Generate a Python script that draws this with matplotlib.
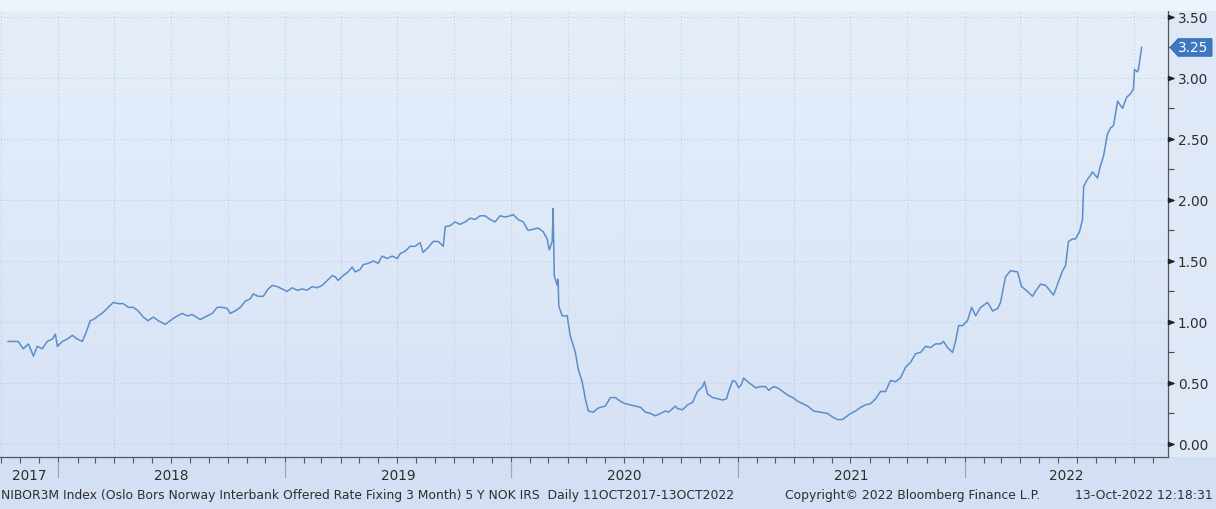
import matplotlib
matplotlib.use("Agg")
import matplotlib.pyplot as plt
import matplotlib.dates as mdates
from matplotlib.path import Path
from matplotlib.patches import Polygon, Rectangle
import numpy as np
import pandas as pd

# values (decimal year, rate in %)
years = [
    2017.779, 2017.801, 2017.823, 2017.845, 2017.868, 2017.890, 2017.907, 2017.929, 2017.951, 2017.974,
    2017.987, 2017.996, 2018.018, 2018.040, 2018.062, 2018.084, 2018.106, 2018.124, 2018.141, 2018.155,
    2018.177, 2018.199, 2018.221, 2018.243, 2018.265, 2018.287, 2018.309, 2018.331, 2018.353, 2018.375,
    2018.397, 2018.419, 2018.442, 2018.472, 2018.494, 2018.517, 2018.547, 2018.570, 2018.592, 2018.627,
    2018.658, 2018.680, 2018.702, 2018.724, 2018.746, 2018.759, 2018.781, 2018.804, 2018.826, 2018.848,
    2018.861, 2018.883, 2018.905, 2018.927, 2018.945, 2018.967, 2018.989, 2019.011, 2019.033, 2019.055,
    2019.077, 2019.099, 2019.121, 2019.143, 2019.166, 2019.188, 2019.210, 2019.223, 2019.236, 2019.258,
    2019.280, 2019.298, 2019.311, 2019.333, 2019.347, 2019.369, 2019.391, 2019.413, 2019.430, 2019.453,
    2019.475, 2019.497, 2019.510, 2019.532, 2019.554, 2019.576, 2019.598, 2019.611, 2019.634, 2019.656,
    2019.678, 2019.700, 2019.709, 2019.731, 2019.753, 2019.775, 2019.797, 2019.819, 2019.841, 2019.863,
    2019.885, 2019.907, 2019.929, 2019.951, 2019.974, 2019.996, 2020.009, 2020.031, 2020.053, 2020.075,
    2020.097, 2020.119, 2020.141, 2020.159, 2020.168, 2020.181, 2020.185, 2020.190, 2020.203, 2020.207,
    2020.210, 2020.225, 2020.247, 2020.260, 2020.283, 2020.296, 2020.313, 2020.327, 2020.340, 2020.362,
    2020.380, 2020.393, 2020.415, 2020.437, 2020.459, 2020.481, 2020.503, 2020.525, 2020.547, 2020.570,
    2020.592, 2020.614, 2020.636, 2020.658, 2020.680, 2020.693, 2020.711, 2020.724, 2020.733, 2020.755,
    2020.777, 2020.799, 2020.821, 2020.843, 2020.852, 2020.865, 2020.887, 2020.909, 2020.932, 2020.949,
    2020.958, 2020.976, 2020.989, 2021.002, 2021.015, 2021.024, 2021.042, 2021.064, 2021.077, 2021.099,
    2021.121, 2021.135, 2021.157, 2021.174, 2021.197, 2021.219, 2021.241, 2021.263, 2021.285, 2021.307,
    2021.333, 2021.364, 2021.395, 2021.417, 2021.439, 2021.461, 2021.475, 2021.497, 2021.519, 2021.541,
    2021.563, 2021.585, 2021.607, 2021.629, 2021.651, 2021.673, 2021.695, 2021.717, 2021.740, 2021.762,
    2021.784, 2021.806, 2021.828, 2021.850, 2021.872, 2021.894, 2021.907, 2021.925, 2021.947, 2021.960,
    2021.974, 2021.991, 2022.013, 2022.031, 2022.049, 2022.071, 2022.102, 2022.124, 2022.146, 2022.159,
    2022.181, 2022.203, 2022.234, 2022.252, 2022.278, 2022.300, 2022.313, 2022.336, 2022.358, 2022.380,
    2022.393, 2022.411, 2022.433, 2022.446, 2022.459, 2022.477, 2022.490, 2022.508, 2022.521, 2022.526,
    2022.543, 2022.552, 2022.565, 2022.587, 2022.600, 2022.614, 2022.631, 2022.645, 2022.658, 2022.676,
    2022.698, 2022.715, 2022.733, 2022.746, 2022.751, 2022.764, 2022.768, 2022.782,
]
rates = [
    0.84, 0.84, 0.84, 0.78, 0.82, 0.72, 0.80, 0.78, 0.84, 0.86,
    0.90, 0.80, 0.84, 0.86, 0.89, 0.86, 0.84, 0.92, 1.01, 1.02,
    1.05, 1.08, 1.12, 1.16, 1.15, 1.15, 1.12, 1.12, 1.09, 1.04,
    1.01, 1.04, 1.01, 0.98, 1.01, 1.04, 1.07, 1.05, 1.06, 1.02,
    1.05, 1.07, 1.12, 1.12, 1.11, 1.07, 1.09, 1.12, 1.17, 1.19,
    1.23, 1.21, 1.21, 1.27, 1.30, 1.29, 1.27, 1.25, 1.28, 1.26,
    1.27, 1.26, 1.29, 1.28, 1.30, 1.34, 1.38, 1.37, 1.34, 1.38,
    1.41, 1.45, 1.41, 1.43, 1.47, 1.48, 1.50, 1.48, 1.54, 1.52,
    1.54, 1.52, 1.56, 1.58, 1.62, 1.62, 1.65, 1.57, 1.61, 1.66,
    1.66, 1.62, 1.78, 1.79, 1.82, 1.80, 1.82, 1.85, 1.84, 1.87,
    1.87, 1.84, 1.82, 1.87, 1.86, 1.87, 1.88, 1.84, 1.82, 1.75,
    1.76, 1.77, 1.74, 1.68, 1.59, 1.66, 1.93, 1.38, 1.30, 1.35,
    1.13, 1.05, 1.05, 0.89, 0.75, 0.61, 0.51, 0.37, 0.27, 0.26,
    0.29, 0.30, 0.31, 0.38, 0.38, 0.35, 0.33, 0.32, 0.31, 0.30,
    0.26, 0.25, 0.23, 0.25, 0.27, 0.26, 0.29, 0.31, 0.29, 0.28,
    0.32, 0.34, 0.43, 0.47, 0.51, 0.41, 0.38, 0.37, 0.36, 0.37,
    0.43, 0.52, 0.51, 0.46, 0.49, 0.54, 0.51, 0.48, 0.46, 0.47,
    0.47, 0.44, 0.47, 0.46, 0.43, 0.40, 0.38, 0.35, 0.33, 0.31,
    0.27, 0.26, 0.25, 0.22, 0.20, 0.20, 0.22, 0.25, 0.27, 0.30,
    0.32, 0.33, 0.37, 0.43, 0.43, 0.52, 0.51, 0.54, 0.63, 0.67,
    0.74, 0.75, 0.80, 0.79, 0.82, 0.82, 0.84, 0.79, 0.75, 0.84,
    0.97, 0.97, 1.01, 1.12, 1.05, 1.12, 1.16, 1.09, 1.11, 1.16,
    1.37, 1.42, 1.41, 1.29, 1.25, 1.21, 1.25, 1.31, 1.30, 1.25,
    1.22, 1.31, 1.42, 1.46, 1.66, 1.68, 1.68, 1.74, 1.84, 2.11,
    2.17, 2.19, 2.23, 2.18, 2.28, 2.36, 2.54, 2.59, 2.61, 2.81,
    2.75, 2.84, 2.87, 2.91, 3.07, 3.05, 3.07, 3.25,
]

year_labels = [2017, 2018, 2019, 2020, 2021, 2022]
y_ticks = [0.0, 0.5, 1.0, 1.5, 2.0, 2.5, 3.0, 3.5]

footer_left = "NIBOR3M Index (Oslo Bors Norway Interbank Offered Rate Fixing 3 Month) 5 Y NOK IRS  Daily 11OCT2017-13OCT2022"
footer_mid = "Copyright\u00a9 2022 Bloomberg Finance L.P."
footer_right = "13-Oct-2022 12:18:31"


def dec_to_date(y):
    y0 = int(y)
    a = pd.Timestamp(y0, 1, 1)
    b = pd.Timestamp(y0 + 1, 1, 1)
    return a + (b - a) * (y - y0)


dates = [dec_to_date(y) for y in years]
x_min = pd.Timestamp("2017-09-29")
x_max = pd.Timestamp("2022-11-25")

line_col = "#5b8ec9"
txt_col = "#2e2e2e"
grid_col = "#c0cee3"

fig = plt.figure(figsize=(12.16, 5.10), dpi=100, facecolor="#dfe8f7")
# darker band under the plot for the date axis and footer, light strip on top
fig.patches.append(Rectangle((0, 0), 1, 0.102, transform=fig.transFigure,
                             facecolor="#d3dff2", edgecolor="none", zorder=-1))
fig.patches.append(Rectangle((0, 0.9765), 1, 0.0235, transform=fig.transFigure,
                             facecolor="#eef3fb", edgecolor="none", zorder=-1))
ax = fig.add_axes([0.0, 0.102, 1168 / 1216, 0.8745])
ax.set_facecolor("#dde7f7")

# soft vertical gradient behind the plot
grad = np.linspace(0, 1, 256).reshape(-1, 1)
cmap = matplotlib.colors.LinearSegmentedColormap.from_list("bg", ["#e6eefa", "#d6e2f5"])
ax.imshow(grad, aspect="auto", cmap=cmap, extent=[0, 1, 0, 1],
          transform=ax.transAxes, zorder=0, origin="upper")

ax.plot(dates, rates, color=line_col, lw=1.1, zorder=3)

ax.set_xlim(x_min, x_max)
ax.set_ylim(-0.107, 3.549)

# x axis: monthly ticks, quarterly grid
ax.xaxis.set_major_locator(mdates.MonthLocator(bymonth=[1, 4, 7, 10]))
ax.xaxis.set_minor_locator(mdates.MonthLocator())
ax.xaxis.set_major_formatter(plt.NullFormatter())
ax.tick_params(axis="x", which="both", direction="out", length=4, width=0.8, colors="#555555")
ax.grid(True, axis="x", which="major", ls=(0, (1, 2)), color=grid_col, lw=0.8)

# y axis on the right with triangle ticks
ax.yaxis.tick_right()
ax.set_yticks(y_ticks)
ax.set_yticks([0.25, 0.75, 1.25, 1.75, 2.25, 2.75, 3.25], minor=True)
ax.yaxis.set_major_formatter(plt.FuncFormatter(lambda v, p: f"{v:.2f}"))
ax.tick_params(axis="y", which="major", length=0, pad=7, labelsize=9.8, labelcolor=txt_col)
ax.tick_params(axis="y", which="minor", length=4, width=0.8, colors="#444444", direction="out")
ax.grid(True, axis="y", which="major", ls=(0, (1, 2)), color=grid_col, lw=0.8)
tri = Path([(0, -0.5), (1.4, 0), (0, 0.5), (0, -0.5)],
           [Path.MOVETO, Path.LINETO, Path.LINETO, Path.CLOSEPOLY])
for v in y_ticks:
    ax.plot([1.0], [v], marker=tri, ms=8, color="#222222", transform=ax.get_yaxis_transform(),
            clip_on=False, zorder=5)

for s in ["top", "left"]:
    ax.spines[s].set_visible(False)
ax.spines["right"].set_color("#555555")
ax.spines["bottom"].set_color("#555555")
ax.spines["right"].set_linewidth(0.9)
ax.spines["bottom"].set_linewidth(0.9)

# year labels centred in the visible part of each year, separators at year ends
xt = ax.get_xaxis_transform()
for yr in year_labels:
    a = max(pd.Timestamp(yr, 1, 1), x_min)
    b = min(pd.Timestamp(yr + 1, 1, 1), x_max)
    ax.text(a + (b - a) / 2, -0.024, str(yr), transform=xt, ha="center", va="top",
            fontsize=9.8, color=txt_col)
    if yr > year_labels[0]:
        ax.plot([pd.Timestamp(yr, 1, 1)] * 2, [-0.011, -0.046], transform=xt,
                color="#9aaac0", lw=0.9, clip_on=False)

# last value tag
last = rates[-1]
px = 1.0 / 1168
h = 0.072
tag = Polygon([(1 + 2 * px, last), (1 + 10 * px, last + h), (1 + 44 * px, last + h),
               (1 + 44 * px, last - h), (1 + 10 * px, last - h)],
              closed=True, transform=ax.get_yaxis_transform(), clip_on=False,
              facecolor="#3c78c3", edgecolor="#2f66ad", lw=0.6, zorder=6)
ax.add_patch(tag)
ax.text(1.0 + 25 * px, last, f"{last:.2f}", transform=ax.get_yaxis_transform(),
        ha="center", va="center", color="white", fontsize=9.8, zorder=7)

# footer
fig.text(0.001, 0.015, footer_left, fontsize=8.9, color=txt_col, ha="left", va="bottom")
fig.text(785 / 1216, 0.015, footer_mid, fontsize=8.9, color=txt_col, ha="left", va="bottom")
fig.text(1213 / 1216, 0.015, footer_right, fontsize=8.9, color=txt_col, ha="right", va="bottom")

fig.savefig("out.png", dpi=100, facecolor=fig.get_facecolor())
